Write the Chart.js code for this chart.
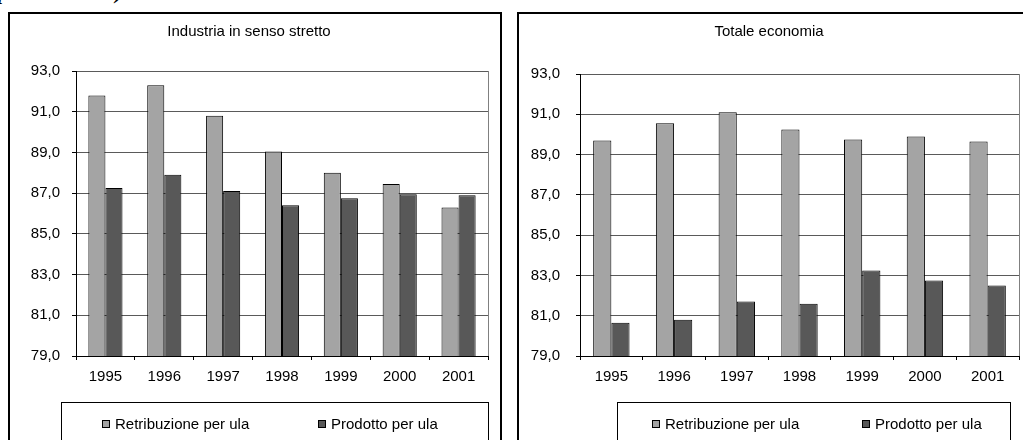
<!DOCTYPE html>
<html>
<head>
<meta charset="utf-8">
<script src="https://cdn.jsdelivr.net/npm/chart.js@4.4.1/dist/chart.umd.min.js"></script>
<style>
  html, body { margin: 0; padding: 0; background: #fff; }
  body { width: 1023px; height: 440px; overflow: hidden; position: relative; }
  .frag { position: absolute; left: -2px; top: -19px; line-height: 22px; font: italic bold 20px "Liberation Serif", serif; white-space: nowrap; color: #000; }
  .panel { position: absolute; top: 12px; height: 440px; border: 2px solid #000; }
  #pL { left: 8px; width: 490px; }
  #pR { left: 517px; width: 506px; }
  .panel canvas { display: block; }
</style>
</head>
<body>
<div class="frag">prezzi costanti)</div>
<div class="panel" id="pL"><canvas id="cL" width="490" height="440"></canvas></div>
<div class="panel" id="pR"><canvas id="cR" width="506" height="440"></canvas></div>
<script>
const anni = ['1995', '1996', '1997', '1998', '1999', '2000', '2001'];
const serieNomi = ['Retribuzione per ula', 'Prodotto per ula'];

// Industria in senso stretto
const indRetribuzione = [91.8, 92.3, 90.8, 89.05, 88.0, 87.45, 86.3];
const indProdotto = [87.25, 87.9, 87.1, 86.4, 86.75, 86.95, 86.9];

// Totale economia
const totRetribuzione = [89.7, 90.55, 91.1, 90.25, 89.75, 89.9, 89.65];
const totProdotto = [80.65, 80.8, 81.7, 81.6, 83.25, 82.75, 82.5];

const yTicks = [79, 81, 83, 85, 87, 89, 91, 93];

const FONT = '"Liberation Sans", Arial, sans-serif';
const colori = ['#a4a4a4', '#585858'];

// bordo destro dell'area del grafico (grigio, stile Excel)
const bordoArea = {
    id: 'bordoArea',
    afterDraw(chart) {
        const a = chart.chartArea;
        const ctx = chart.ctx;
        ctx.save();
        ctx.strokeStyle = '#808080';
        ctx.lineWidth = 1;
        ctx.beginPath();
        ctx.moveTo(Math.round(a.right) + 0.5, a.top);
        ctx.lineTo(Math.round(a.right) + 0.5, a.bottom);
        ctx.stroke();
        ctx.restore();
    }
};

// legenda dentro un riquadro, come nell'originale
const legendaBox = {
    id: 'legendaBox',
    afterDraw(chart, args, opts) {
        const ctx = chart.ctx;
        ctx.save();
        ctx.strokeStyle = '#000';
        ctx.lineWidth = 1;
        ctx.strokeRect(opts.left + 0.5, opts.top + 0.5, opts.right - opts.left, 80);
        ctx.font = '15px ' + FONT;
        ctx.textBaseline = 'middle';
        chart.data.datasets.forEach((ds, i) => {
            const x = opts.items[i];
            ctx.fillStyle = ds.backgroundColor;
            ctx.fillRect(x, opts.textY - 4, 8, 8);
            ctx.strokeStyle = '#000';
            ctx.strokeRect(x + 0.5, opts.textY - 3.5, 7, 7);
            ctx.fillStyle = '#000';
            ctx.fillText(ds.label, x + 13, opts.textY + 1);
        });
        ctx.restore();
    }
};

function creaGrafico(id, titolo, retr, prod, g) {
    return new Chart(document.getElementById(id), {
        type: 'bar',
        data: {
            labels: anni,
            datasets: [
                { label: serieNomi[0], data: retr, backgroundColor: colori[0], borderColor: '#000', borderWidth: 1 },
                { label: serieNomi[1], data: prod, backgroundColor: colori[1], borderColor: '#000', borderWidth: 1 }
            ]
        },
        options: {
            responsive: false,
            animation: false,
            devicePixelRatio: 1,
            categoryPercentage: 0.58,
            barPercentage: 1,
            layout: { padding: { left: 0, right: g.padRight, top: 0, bottom: 58 } },
            plugins: {
                legend: { display: false },
                tooltip: { enabled: false },
                title: {
                    display: true,
                    text: titolo,
                    color: '#000',
                    font: { family: FONT, size: 15, weight: 'normal', lineHeight: 1.2 },
                    padding: { top: 9, bottom: g.titleBottom }
                },
                legendaBox: g.legenda
            },
            scales: {
                x: {
                    grid: { drawOnChartArea: false, drawTicks: true, tickLength: 4, tickColor: '#000', offset: true },
                    border: { color: '#000', width: 1 },
                    ticks: { color: '#000', font: { family: FONT, size: 15 }, padding: 8, maxRotation: 0 },
                    afterFit(s) { s.height = 40; }
                },
                y: {
                    min: yTicks[0],
                    max: yTicks[yTicks.length - 1],
                    afterBuildTicks(s) { s.ticks = yTicks.map(v => ({ value: v })); },
                    grid: { color: '#5a5a5a', tickLength: 4, tickColor: '#000' },
                    border: { color: '#000', width: 1 },
                    ticks: {
                        color: '#000',
                        font: { family: FONT, size: 15 },
                        padding: g.yPad,
                        callback: v => v.toFixed(1).replace('.', ',')
                    },
                    afterFit(s) { s.width = g.yWidth; }
                }
            }
        },
        plugins: [bordoArea, legendaBox]
    });
}

creaGrafico('cL', 'Industria in senso stretto', indRetribuzione, indProdotto, {
    padRight: 12, titleBottom: 30, yPad: 12, yWidth: 66,
    legenda: { left: 51, right: 478, top: 388, textY: 410, items: [92, 308] }
});

creaGrafico('cR', 'Totale economia', totRetribuzione, totProdotto, {
    padRight: 6, titleBottom: 33, yPad: 16, yWidth: 61,
    legenda: { left: 98, right: 491, top: 388, textY: 410, items: [133, 343] }
});
</script>
</body>
</html>
